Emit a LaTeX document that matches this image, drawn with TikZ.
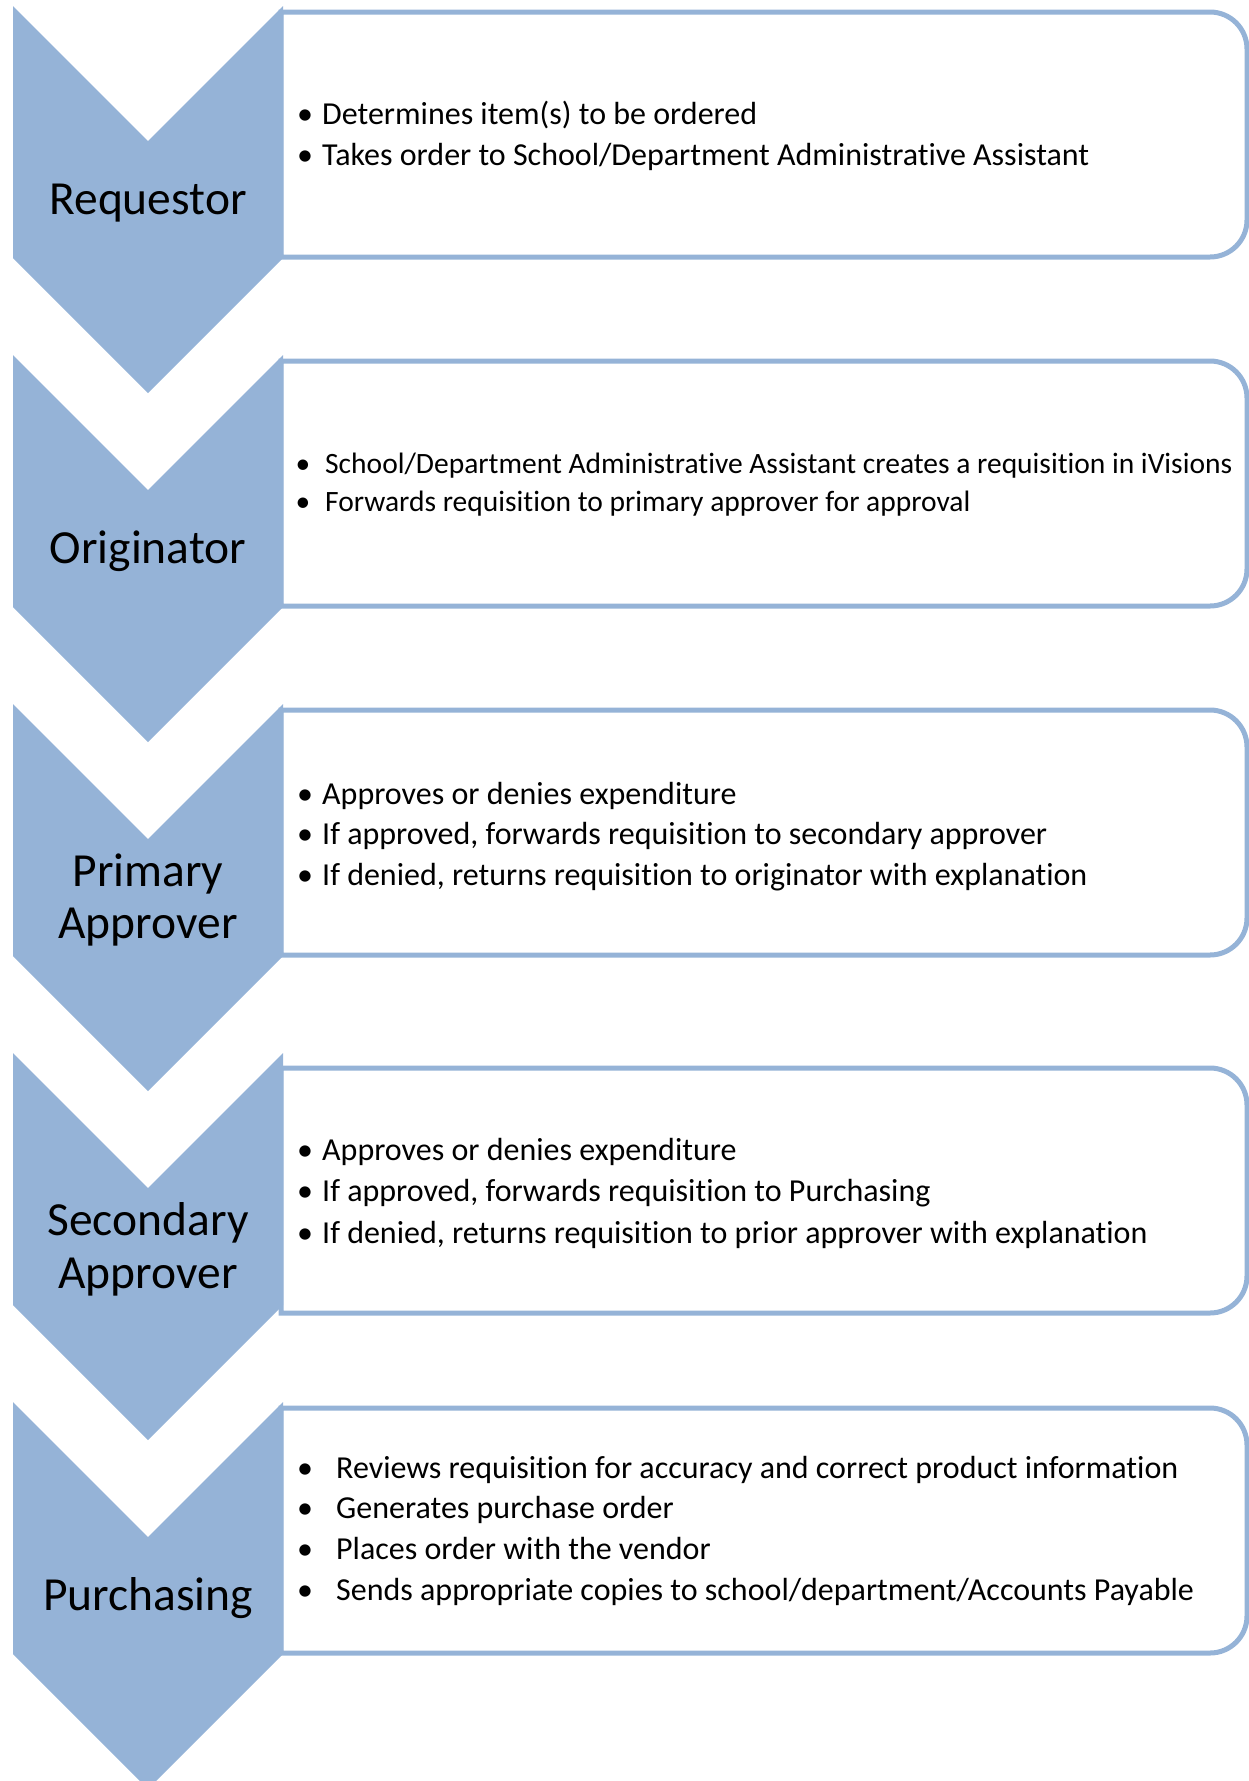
\documentclass[tikz,border=0pt]{standalone}
\usepackage{fontspec}
\setmainfont{Carlito}[Ligatures={NoCommon}]
\definecolor{stepblue}{HTML}{95B3D7}
\tikzset{
  chev/.style={fill=stepblue},
  panel/.style={draw=stepblue, line width=5pt, fill=white},
  role/.style={font=\fontsize{47.5}{52}\selectfont, anchor=base, inner sep=0pt},
  dot/.style={font=\fontsize{#1}{#1}\selectfont, anchor=base, inner sep=0pt},
  item/.style={font=\fontsize{#1}{#1}\selectfont, anchor=base west, inner sep=0pt},
}
% chevron whose top edge sits at y = #1
\newcommand\chevronat[1]{%
  \fill[chev] (13,#1) -- (148,#1+135) -- (283,#1) -- (283,#1+252)
    -- (148,#1+387) -- (13,#1+252) -- cycle;}
% text panel from y = #1 to y = #2, rounded on the right
\newcommand\panelat[2]{%
  \draw[panel] (281,#1) -- (1210,#1) arc[start angle=-90,end angle=0,radius=37]
    -- (1247,#2-37) arc[start angle=0,end angle=90,radius=37] -- (281,#2) -- cycle;}
\begin{document}
\begin{tikzpicture}[x=1pt,y=-1pt]
\useasboundingbox (0,0) rectangle (1249,1781);
\clip (0,0) rectangle (1249,1781);

% panels
\panelat{12}{257}
\panelat{361}{606}
\panelat{710}{955}
\panelat{1068}{1313}
\panelat{1408}{1653}

% chevrons
\chevronat{6}
\chevronat{355}
\chevronat{704}
\chevronat{1053}
\chevronat{1402}

% role labels
\node[role] (req) at (148,214) {Requestor};
\node[role] (org) at (148,563) {Originator};
\node[role] (pa1) at (148,886) {Primary};
\node[role] (pa2) at (148,938) {Approver};
\node[role] (sa1) at (148,1235) {Secondary};
\node[role] (sa2) at (148,1288) {Approver};
\node[role] (pur) at (148,1610) {Purchasing};

% Requestor
\node[dot=32] (b11) at (305,124.5) {•};
\node[item=32] (t11) at (322,124.5) {Determines item(s) to be ordered};
\node[dot=32] (b12) at (305,165) {•};
\node[item=32] (t12) at (322,165) {Takes order to School/Department Administrative Assistant};

% Originator
\node[dot=29.5] (b21) at (303,473.5) {•};
\node[item=29.5] (t21) at (325,473.5) {School/Department Administrative Assistant creates a requisition in iVisions};
\node[dot=29.5] (b22) at (303,511.5) {•};
\node[item=29.5] (t22) at (325,511.5) {Forwards requisition to primary approver for approval};

% Primary approver
\node[dot=32] (b31) at (305,804) {•};
\node[item=32] (t31) at (322,804) {Approves or denies expenditure};
\node[dot=32] (b32) at (305,844) {•};
\node[item=32] (t32) at (322,844) {If approved, forwards requisition to secondary approver};
\node[dot=32] (b33) at (305,885) {•};
\node[item=32] (t33) at (322,885) {If denied, returns requisition to originator with explanation};

% Secondary approver
\node[dot=32] (b41) at (305,1160) {•};
\node[item=32] (t41) at (322,1160) {Approves or denies expenditure};
\node[dot=32] (b42) at (305,1201) {•};
\node[item=32] (t42) at (322,1201) {If approved, forwards requisition to Purchasing};
\node[dot=32] (b43) at (305,1243) {•};
\node[item=32] (t43) at (322,1243) {If denied, returns requisition to prior approver with explanation};

% Purchasing
\node[dot=32] (b51) at (305,1478.5) {•};
\node[item=32] (t51) at (336,1478.5) {Reviews requisition for accuracy and correct product information};
\node[dot=32] (b52) at (305,1518.5) {•};
\node[item=32] (t52) at (336,1518.5) {Generates purchase order};
\node[dot=32] (b53) at (305,1559.5) {•};
\node[item=32] (t53) at (336,1559.5) {Places order with the vendor};
\node[dot=32] (b54) at (305,1600.5) {•};
\node[item=32] (t54) at (336,1600.5) {Sends appropriate copies to school/department/Accounts Payable};
\end{tikzpicture}
\end{document}
